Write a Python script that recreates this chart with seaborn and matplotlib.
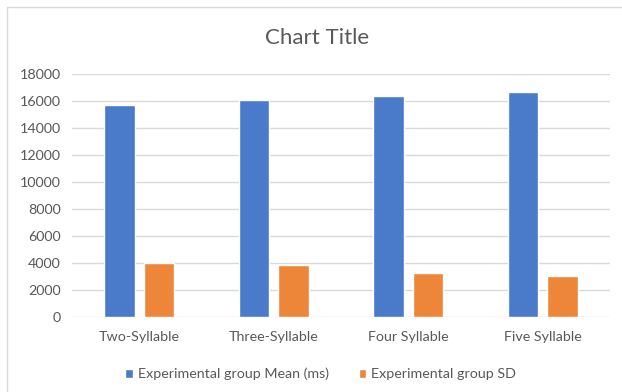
import matplotlib
matplotlib.use("Agg")
import matplotlib.pyplot as plt
import seaborn as sns
import pandas as pd
from matplotlib.patches import Rectangle

categories = ["Two-Syllable", "Three-Syllable", "Four Syllable", "Five Syllable"]
mean_values = [15700, 16080, 16400, 16700]
sd_values = [3990, 3890, 3270, 3070]
series_names = ["Experimental group Mean (ms)", "Experimental group SD"]
y_ticks = [0, 2000, 4000, 6000, 8000, 10000, 12000, 14000, 16000, 18000]

df = pd.DataFrame({
    "category": categories * 2,
    "value": mean_values + sd_values,
    "series": [series_names[0]] * len(categories) + [series_names[1]] * len(categories),
})

sns.set_theme(style="white")
plt.rcParams["font.family"] = ["Lato", "DejaVu Sans"]

W, H = 622, 392
fig = plt.figure(figsize=(W / 100, H / 100), dpi=100)
fig.patch.set_facecolor("white")
ax = fig.add_axes([72 / W, 1 - 317 / H, (610 - 72) / W, (317 - 74.3) / H])

sns.barplot(data=df, x="category", y="value", hue="series", order=categories,
            hue_order=series_names, palette=["#4A7BCB", "#EE8639"],
            width=0.586, gap=0.23, ax=ax, legend=True, saturation=1)

ax.set_ylim(0, 18000)
ax.set_xlim(-0.5, 3.5)
ax.set_yticks(y_ticks)
ax.set_yticklabels([str(v) for v in y_ticks])
ax.yaxis.grid(True, color="#d9d9d9", linewidth=1)
ax.set_axisbelow(True)
for s in ax.spines.values():
    s.set_visible(False)
ax.tick_params(axis="both", length=0, labelsize=10.3, labelcolor="#595959")
ax.tick_params(axis="x", pad=10)
ax.tick_params(axis="y", pad=8)
ax.set_xlabel("")
ax.set_ylabel("")

handles, labels = ax.get_legend_handles_labels()
ax.get_legend().remove()
fig.legend(handles, labels, loc="center", bbox_to_anchor=(320.5 / W, 1 - 374 / H), ncol=2,
           frameon=False, fontsize=10.3, labelcolor="#595959",
           handlelength=0.55, handleheight=0.55, handletextpad=0.3, columnspacing=2.1)

fig.text(0.51, 1 - 38 / H, "Chart Title", ha="center", va="center", fontsize=16, color="#595959")

fig.patches.append(Rectangle((7 / W, -0.1), 1.2, 1 - 7 / H + 0.1, transform=fig.transFigure,
                             fill=False, edgecolor="#d9d9d9", linewidth=1))

fig.savefig("out.png", dpi=100, facecolor="white")
